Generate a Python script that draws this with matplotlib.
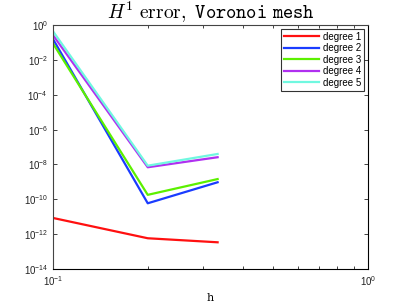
import matplotlib
matplotlib.use("Agg")
import matplotlib.pyplot as plt
import numpy as np
from matplotlib.ticker import LogLocator, NullLocator, NullFormatter

h = [0.1, 0.2, 0.3333]
deg1 = [8.5e-12, 5.8e-13, 3.4e-13]
deg2 = [0.16, 5.9e-11, 9.5e-10]
deg3 = [0.09, 1.8e-10, 1.45e-9]
deg4 = [0.27, 6.9e-9, 2.6e-8]
deg5 = [0.45, 8.5e-9, 4.0e-8]
labels = ["degree 1", "degree 2", "degree 3", "degree 4", "degree 5"]
colors = ["#ff1010", "#1a3cff", "#5cf000", "#b030f0", "#70f8e0"]

plt.rcParams['font.family'] = ['Liberation Sans', 'DejaVu Sans']

fig = plt.figure(figsize=(4.07, 3.06), dpi=100)
ax = fig.add_axes([0.130, 0.121, 0.774, 0.797])

for ys, lab, c in zip([deg1, deg2, deg3, deg4, deg5], labels, colors):
    ax.plot(h, ys, color=c, lw=1.6, label=lab)

ax.set_xscale('log')
ax.set_yscale('log')
ax.set_xlim(0.1, 1)
ax.set_ylim(1e-14, 1)

ax.set_yticks([10.0**k for k in range(-14, 1, 2)])
ax.yaxis.set_minor_locator(NullLocator())
ax.xaxis.set_major_locator(LogLocator(base=10, subs=[1.0]))
ax.xaxis.set_minor_locator(LogLocator(base=10, subs=np.arange(2, 10)))
ax.xaxis.set_minor_formatter(NullFormatter())

ax.tick_params(which='both', direction='in', top=True, right=True, labelsize=7, colors='#222222')
ax.tick_params(which='major', length=3, width=0.6)
ax.tick_params(which='minor', length=2, width=0.6)
for s in ax.spines.values():
    s.set_linewidth(0.8)
    s.set_color('#444444')
ax.spines['bottom'].set_color('black')
ax.spines['right'].set_color('black')

ax.set_title(r"$H^1\ \mathrm{error,}\ \mathtt{Voronoi\ mesh}$", fontsize=14,
             math_fontfamily='cm', pad=4)
ax.set_xlabel("h", family='DejaVu Serif', fontsize=8, labelpad=4)

leg = ax.legend(loc='upper right', fontsize=7, frameon=True, fancybox=False,
                edgecolor='black', handlelength=3.6, handletextpad=0.4,
                labelspacing=0.15, borderpad=0.3, borderaxespad=0.4)
leg.get_frame().set_linewidth(0.8)

fig.savefig("out.png", dpi=100)
